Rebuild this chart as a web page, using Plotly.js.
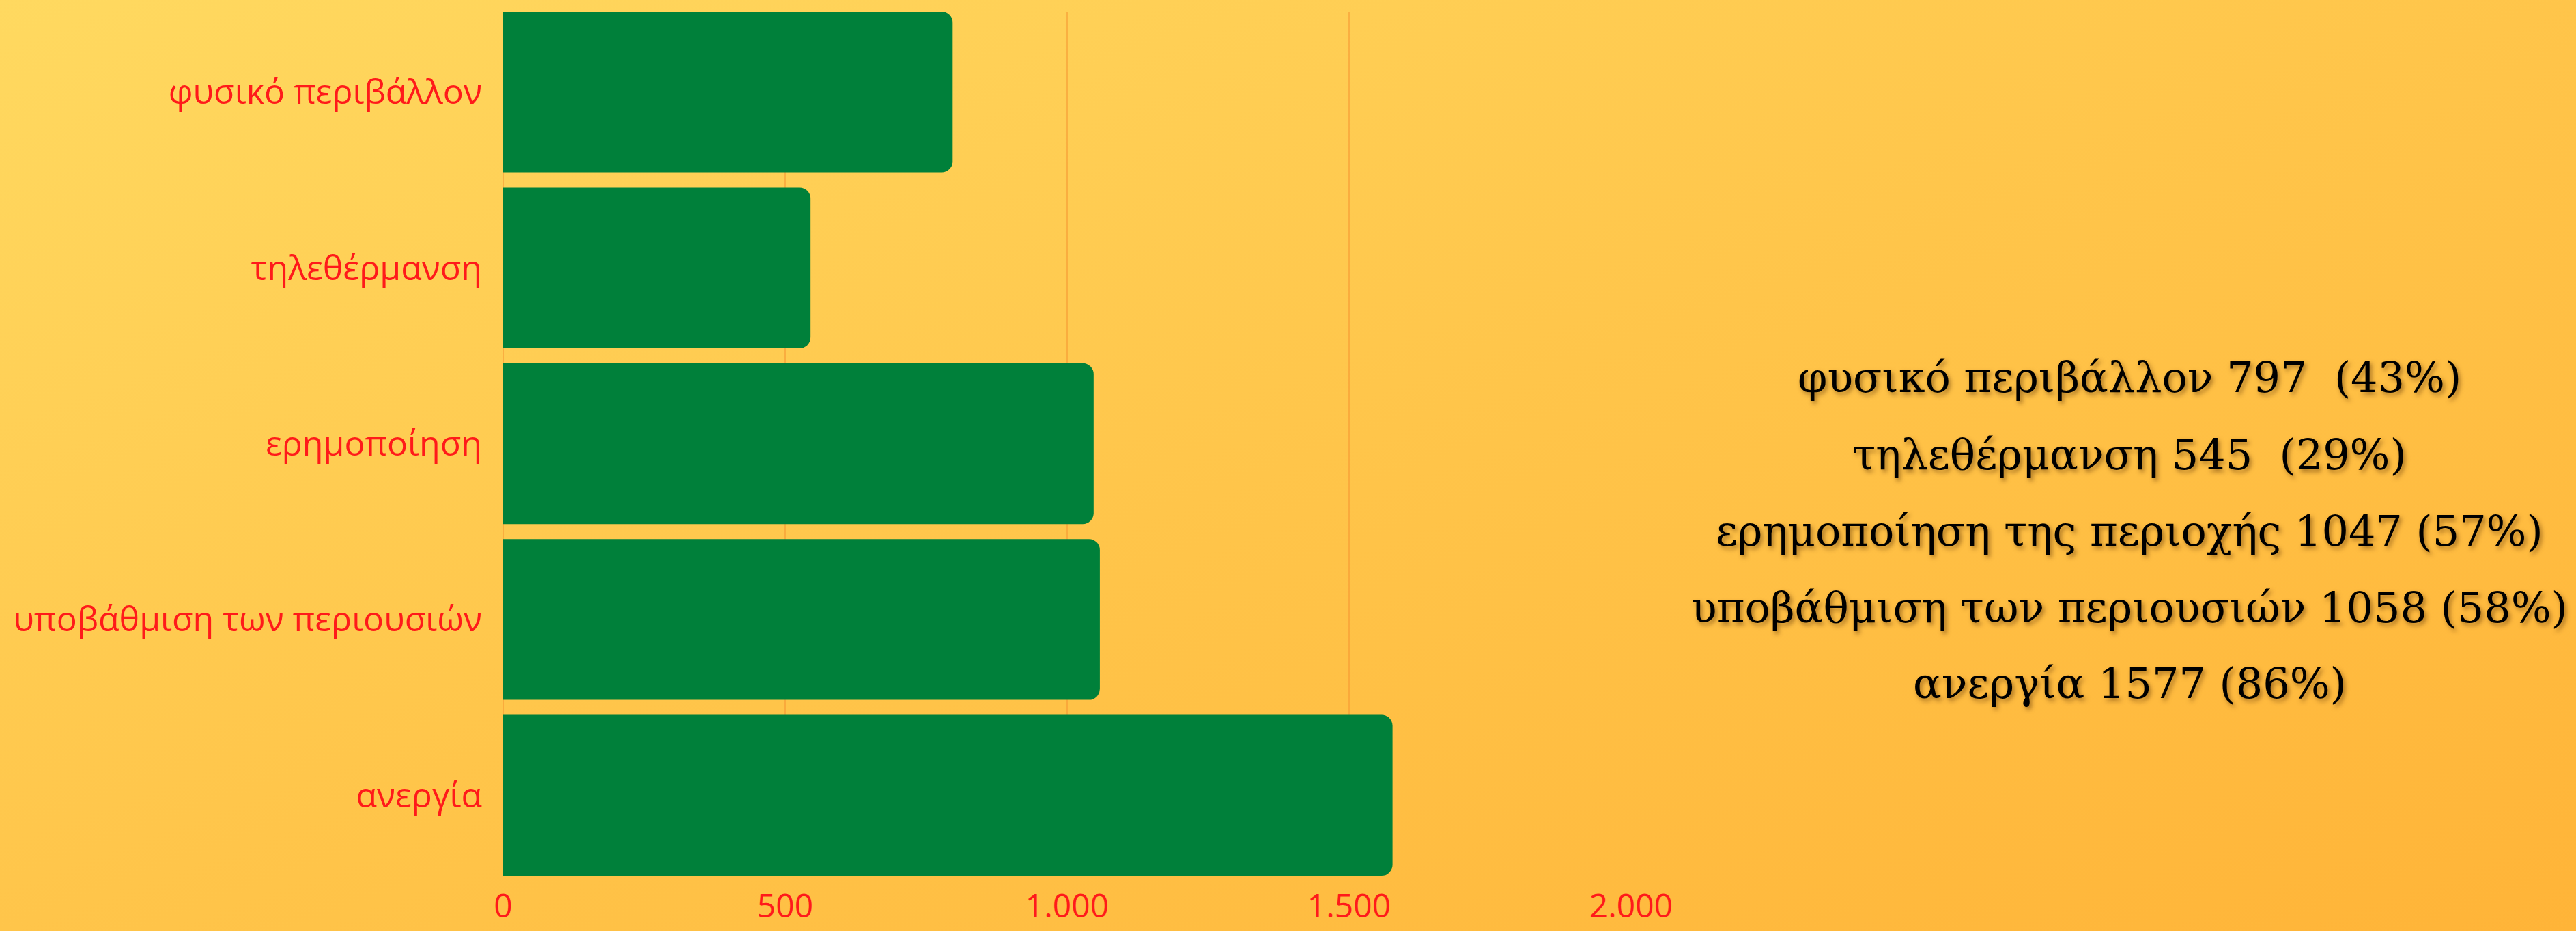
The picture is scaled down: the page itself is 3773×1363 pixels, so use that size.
<!DOCTYPE html>
<html>
<head>
<meta charset="utf-8">
<script src="https://cdn.plot.ly/plotly-3.0.1.min.js"></script>
<style>
  html, body { margin: 0; padding: 0; }
  body { width: 3773px; height: 1363px; background: linear-gradient(to bottom right, #FFD960 0%, #FFC54A 50%, #FFB438 100%); overflow: hidden; }
  #chart { width: 3773px; height: 1363px; }
</style>
</head>
<body>
<div id="chart"></div>
<script>
// ---- data ----
const categories = ["φυσικό περιβάλλον", "τηλεθέρμανση", "ερημοποίηση", "υποβάθμιση των περιουσιών", "ανεργία"];
const values = [797, 545, 1047, 1058, 1577];
const summaryLabels = ["φυσικό περιβάλλον", "τηλεθέρμανση", "ερημοποίηση της περιοχής", "υποβάθμιση των περιουσιών", "ανεργία"];
const summaryPercents = [43, 29, 57, 58, 86];
const summaryGaps = ["\u00a0 ", "\u00a0 ", " ", " ", " "];
const xTicks = [0, 500, 1000, 1500, 2000];

// ---- chart ----
const trace = {
  type: "bar",
  orientation: "h",
  y: categories,
  x: values,
  marker: { color: "#00803A", cornerradius: 16, line: { width: 0 } },
  width: 0.915,
  hoverinfo: "x+y"
};

const lineY = [0.5765, 0.4875, 0.3985, 0.3105, 0.2225];
const annotations = summaryLabels.map((lab, i) => ({
  xref: "paper", yref: "paper",
  x: 1.442, y: lineY[i],
  xanchor: "center", yanchor: "middle",
  showarrow: false,
  text: lab + " " + values[i] + summaryGaps[i] + "(" + summaryPercents[i] + "%)",
  font: { family: "DejaVu Serif", size: 62, color: "#000000", shadow: "3px 4px 6px rgba(80,40,0,0.5)" }
}));

const layout = {
  width: 3773, height: 1363,
  paper_bgcolor: "rgba(0,0,0,0)",
  plot_bgcolor: "rgba(0,0,0,0)",
  margin: { l: 737, r: 1384, t: 17, b: 81, pad: 0 },
  separators: ",.",
  showlegend: false,
  xaxis: {
    range: [0, 2000],
    tickvals: xTicks,
    tickformat: ",d",
    showgrid: true,
    gridcolor: "rgba(245,150,50,0.55)",
    gridwidth: 2,
    zeroline: true,
    zerolinecolor: "rgba(245,150,50,0.55)",
    zerolinewidth: 2,
    showline: false,
    ticks: "",
    ticklabelstandoff: 12,
    tickfont: { family: "Open Sans", size: 48, color: "#FF1A1A" },
    fixedrange: true
  },
  yaxis: {
    categoryorder: "array",
    categoryarray: categories.slice().reverse(),
    range: [-0.4575, 4.4575],
    showgrid: false,
    zeroline: false,
    showline: false,
    ticks: "",
    ticklabelstandoff: 30,
    tickfont: { family: "Open Sans", size: 50, color: "#FF1A1A" },
    fixedrange: true
  },
  bargap: 0.085,
  annotations: annotations
};

Plotly.newPlot("chart", [trace], layout, { displayModeBar: false, staticPlot: true });
</script>
</body>
</html>
